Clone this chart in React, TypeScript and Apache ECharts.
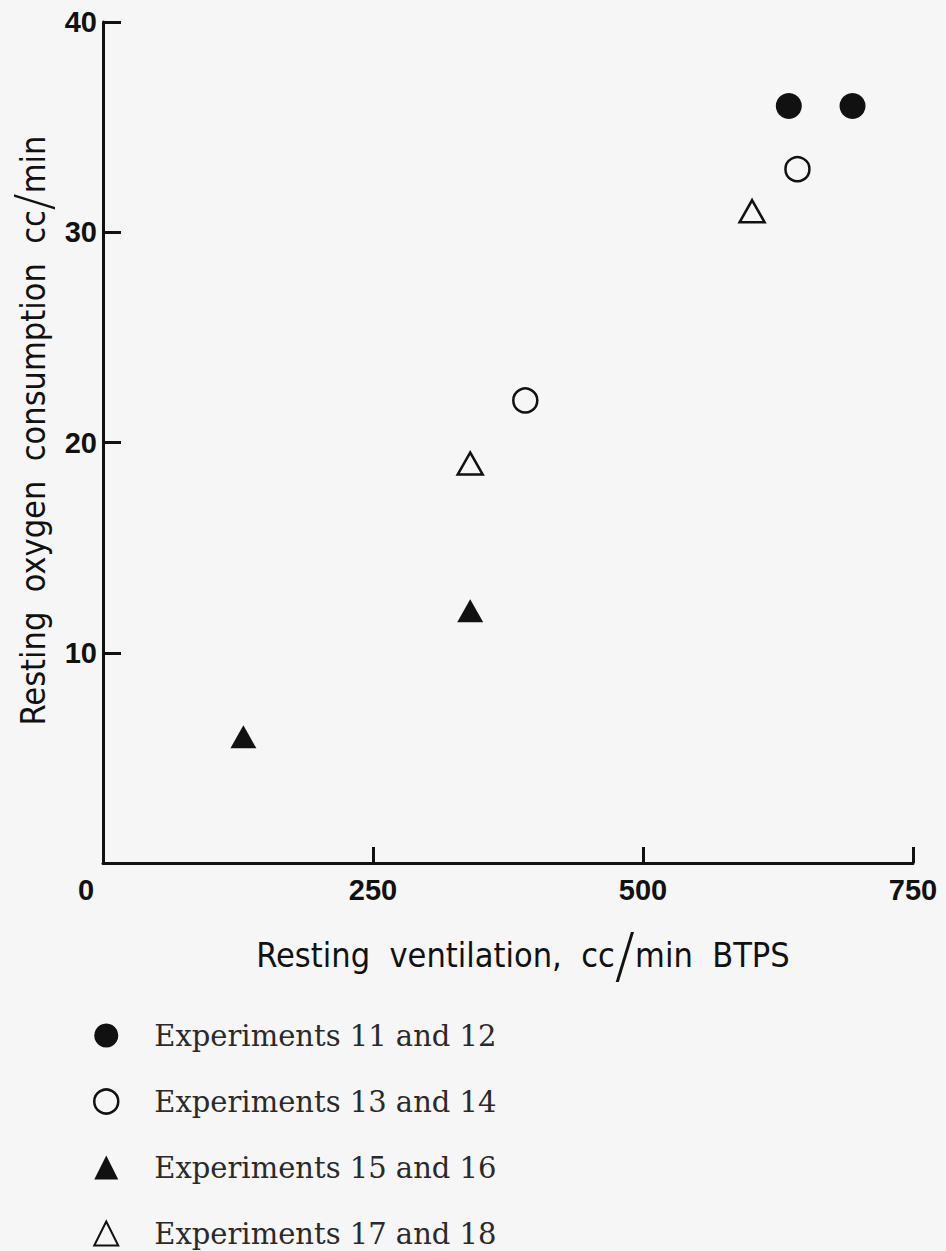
import React, { useEffect, useRef } from "react";
import * as echarts from "echarts";

// Axis ranges and ticks
const xMin = 0;
const xMax = 750;
const xStep = 250;
const yMin = 0;
const yMax = 40;
const yStep = 10;

// Series names (legend labels)
const seriesNames = [
  "Experiments 11 and 12",
  "Experiments 13 and 14",
  "Experiments 15 and 16",
  "Experiments 17 and 18",
];

// [resting ventilation cc/min BTPS, resting O2 consumption cc/min]
const exp11and12 = [
  [635, 36],
  [694, 36],
];
const exp13and14 = [
  [643, 33],
  [391, 22],
];
const exp15and16 = [
  [340, 12],
  [130, 6],
];
const exp17and18 = [
  [340, 19],
  [601, 31],
];

const INK = "#111111";
const PAPER = "#f6f6f6";
const SANS_NARROW =
  '"Liberation Sans Narrow", "DejaVu Sans Condensed", "Liberation Sans", sans-serif';
const SANS_BOLD = '"Liberation Sans", "DejaVu Sans", sans-serif';
const TYPEWRITER = '"DejaVu Serif", "Liberation Serif", serif';

const filled = { color: INK, borderColor: INK, borderWidth: 0, opacity: 1 };
const hollow = { color: PAPER, borderColor: INK, borderWidth: 2.5, opacity: 1 };

export default function App() {
  const ref = useRef<HTMLDivElement>(null);

  useEffect(() => {
    if (!ref.current) return;
    const chart = echarts.init(ref.current, undefined, { renderer: "svg" });

    const xTitleRich = {
      a: { fontFamily: SANS_NARROW, fontSize: 34, color: INK },
      s: { fontFamily: '"DejaVu Sans", sans-serif', fontWeight: 200, fontSize: 60, color: INK },
    };
    const yTitleRich = {
      a: { fontFamily: SANS_NARROW, fontSize: 34, lineHeight: 40, color: INK },
      s: {
        fontFamily: '"DejaVu Sans", sans-serif',
        fontWeight: 200,
        fontSize: 50,
        lineHeight: 40,
        color: INK,
      },
    };

    chart.setOption({
      animation: false,
      backgroundColor: PAPER,
      grid: {
        left: 103,
        right: 33,
        top: 22,
        bottom: 388,
        containLabel: false,
        outerBoundsMode: "none",
      },
      xAxis: {
        type: "value",
        min: xMin,
        max: xMax,
        interval: xStep,
        splitLine: { show: false },
        axisLine: { lineStyle: { color: INK, width: 3 } },
        axisTick: { inside: true, length: 16, lineStyle: { color: INK, width: 3 } },
        axisLabel: {
          margin: 12,
          fontFamily: SANS_BOLD,
          fontWeight: "bold",
          fontSize: 29,
          color: INK,
          formatter: (v: number) => (v === 0 ? "{z|0}" : String(v)),
          rich: {
            z: {
              fontFamily: SANS_BOLD,
              fontWeight: "bold",
              fontSize: 29,
              color: INK,
              padding: [0, 34, 0, 0],
            },
          },
        },
        name: "{a|Resting  ventilation,  cc}{s|/}{a|min  BTPS}",
        nameLocation: "middle",
        nameGap: 62,
        nameTextStyle: { padding: [0, 0, 0, 30], rich: xTitleRich },
      },
      yAxis: {
        type: "value",
        min: yMin,
        max: yMax,
        interval: yStep,
        splitLine: { show: false },
        axisLine: { lineStyle: { color: INK, width: 3 } },
        axisTick: { inside: true, length: 18, lineStyle: { color: INK, width: 3 } },
        axisLabel: {
          margin: 6,
          fontFamily: SANS_BOLD,
          fontWeight: "bold",
          fontSize: 29,
          color: INK,
          formatter: (v: number) => (v === 0 ? "" : String(v)),
        },
        name: "{a|Resting  oxygen  consumption  cc}{s|/}{a|min}",
        nameLocation: "middle",
        nameRotate: 90,
        nameGap: 50,
        nameMoveOverlap: false,
        nameTextStyle: { padding: [0, 0, 0, 24], rich: yTitleRich },
      },
      legend: {
        orient: "vertical",
        left: 93,
        top: 1021,
        height: 320,
        padding: 0,
        itemWidth: 24,
        itemHeight: 24,
        itemGap: 37,
        selectedMode: false,
        textStyle: {
          fontFamily: TYPEWRITER,
          fontSize: 29,
          color: "#2a2a2a",
          lineHeight: 24,
          padding: [0, 0, 0, 31],
        },
        data: [
          { name: seriesNames[0], icon: "circle", itemStyle: filled },
          { name: seriesNames[1], icon: "circle", itemStyle: hollow },
          { name: seriesNames[2], icon: "triangle", itemStyle: filled },
          { name: seriesNames[3], icon: "triangle", itemStyle: { ...hollow, borderWidth: 2 } },
        ],
      },
      series: [
        {
          name: seriesNames[0],
          type: "scatter",
          symbol: "circle",
          symbolSize: 26,
          itemStyle: filled,
          data: exp11and12,
        },
        {
          name: seriesNames[1],
          type: "scatter",
          symbol: "circle",
          symbolSize: 24,
          itemStyle: hollow,
          data: exp13and14,
        },
        {
          name: seriesNames[2],
          type: "scatter",
          symbol: "triangle",
          symbolSize: [26, 23],
          itemStyle: filled,
          data: exp15and16,
        },
        {
          name: seriesNames[3],
          type: "scatter",
          symbol: "triangle",
          symbolSize: [25, 22],
          itemStyle: hollow,
          data: exp17and18,
        },
      ],
    });

    return () => chart.dispose();
  }, []);

  return (
    <div
      ref={ref}
      style={{ position: "fixed", left: 0, top: 0, width: 946, height: 1251 }}
    />
  );
}
